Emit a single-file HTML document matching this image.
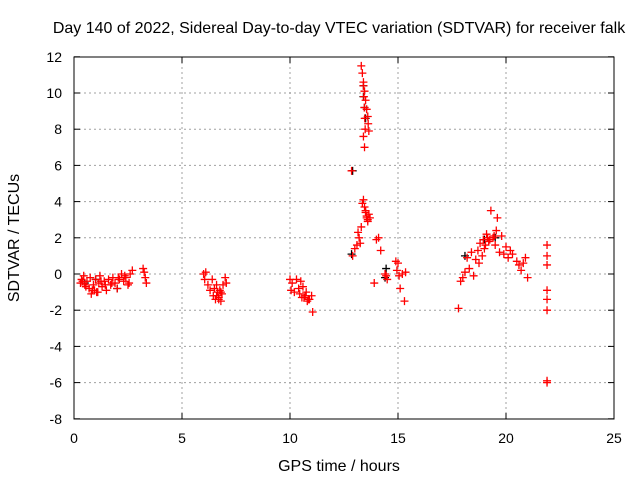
<!DOCTYPE html>
<html><head><meta charset="utf-8"><style>
body{margin:0;background:#fff;font-family:"Liberation Sans",sans-serif;}
svg text{font-family:"Liberation Sans",sans-serif;font-size:14px;fill:#000;}
svg text.big{font-size:16px;}
</style></head><body>
<svg id="chart" width="640" height="480" xmlns="http://www.w3.org/2000/svg">
<rect width="640" height="480" fill="#fff"/>
<text class="big" x="339" y="33" text-anchor="middle">Day 140 of 2022, Sidereal Day-to-day VTEC variation (SDTVAR) for receiver falk</text>
<g id="grid"></g>
<g id="marks"></g>
<rect x="74" y="57" width="540" height="362" fill="none" stroke="#000" stroke-width="1"/>
<text class="big" x="339" y="471" text-anchor="middle">GPS time / hours</text>
<text class="big" transform="translate(19,238) rotate(-90)" text-anchor="middle">SDTVAR / TECUs</text>
</svg>
<script>
const xTicks=[0,5,10,15,20,25];
const yTicks=[-8,-6,-4,-2,0,2,4,6,8,10,12];
const blackHours=[0.5,1.0,2.0,12.9,12.85,13.4,13.4,13.45,13.5,14.4,14.45,18.1,19.0,19.5];
const blackValues=[-0.5,-0.3,-0.8,5.7,1.1,10.4,9.8,9.2,8.6,-0.2,0.3,1.0,1.9,2.0];
const redHours=[0.3,0.35,0.45,0.5,0.6,0.7,0.75,0.8,0.9,0.95,1.0,1.1,1.15,1.2,1.3,1.4,1.5,1.6,1.7,1.8,1.9,2.0,2.1,2.2,2.3,2.4,2.5,2.6,2.7,3.2,3.25,3.3,3.35,
0.4,0.55,0.85,1.05,1.25,1.45,1.75,2.05,2.35,2.55,
6.0,6.05,6.1,6.2,6.3,6.4,6.45,6.5,6.55,6.6,6.65,6.7,6.75,6.8,6.85,6.9,7.0,7.05,6.6,6.7,6.8,
10.0,10.05,10.1,10.2,10.3,10.4,10.45,10.5,10.55,10.6,10.7,10.75,10.8,10.9,11.0,11.05,10.65,10.85,
12.9,12.85,13.0,13.1,13.15,13.2,13.25,13.3,13.35,13.4,13.45,13.5,13.55,13.6,13.3,13.35,13.4,13.45,13.5,13.55,13.6,13.62,13.65,13.4,13.45,13.5,13.55,13.6,13.65,13.7,13.4,13.42,13.44,13.46,13.48,
13.9,14.0,14.1,14.2,14.4,14.5,14.45,14.9,15.0,15.05,15.1,15.2,15.3,14.95,15.35,
17.8,17.9,18.0,18.1,18.2,18.3,18.4,18.5,18.6,18.7,18.75,18.8,18.9,19.0,19.1,19.2,19.3,19.4,19.5,19.55,19.6,19.7,19.8,19.9,20.0,20.1,20.2,20.3,20.5,20.6,20.7,20.8,20.9,21.0,18.95,19.05,19.15,19.25,19.45,
21.9,21.9,21.9,21.9,21.9,21.9,21.9,21.9];
const redValues=[-0.5,-0.3,-0.1,-0.6,-0.4,-0.8,-0.2,-1.1,-0.6,-0.9,-0.3,-1.0,-0.5,-0.1,-0.7,-0.4,-0.9,-0.3,-0.6,-0.2,-0.5,-0.8,-0.3,0.0,-0.4,-0.2,-0.6,0.0,0.2,0.3,0.1,-0.2,-0.5,
-0.4,-0.7,-0.9,-1.0,-0.4,-0.6,-0.5,-0.2,-0.1,-0.5,
0.0,-0.3,0.1,-0.6,-0.9,-0.3,-1.2,-0.8,-1.4,-0.6,-1.0,-1.3,-0.9,-1.5,-1.1,-0.6,-0.2,-0.5,-1.2,-1.4,-1.0,
-0.3,-0.9,-0.5,-1.0,-0.3,-0.8,-1.1,-0.4,-1.3,-0.7,-1.2,-1.0,-1.5,-1.4,-1.2,-2.1,-1.3,-1.4,
1.0,5.7,1.4,1.6,2.3,2.0,1.7,2.6,3.9,4.1,3.7,3.4,3.1,2.9,11.5,11.1,10.6,10.1,9.6,9.1,8.7,8.3,7.9,7.6,7.0,3.5,3.2,3.0,3.3,3.1,10.4,9.8,9.2,8.6,8.0,
-0.5,1.9,2.0,1.3,0.0,-0.3,-0.1,0.7,0.6,-0.1,-0.8,0.0,-1.5,0.2,0.1,
-1.9,-0.4,-0.2,0.1,0.9,0.3,1.2,-0.1,0.8,1.3,0.6,1.7,1.0,1.4,2.2,1.8,3.5,2.0,1.6,2.4,3.1,1.2,2.1,1.1,1.5,0.9,1.3,1.1,0.7,0.5,0.2,0.6,0.9,-0.2,1.9,1.6,2.0,1.9,2.1,
1.6,1.0,0.5,-0.9,-1.4,-2.0,-6.0,-5.9];
const X=h=>74+h*21.6, Y=v=>274-v*18.1;
const NS="http://www.w3.org/2000/svg";
const grid=document.getElementById('grid'),marks=document.getElementById('marks');
function mk(tag,attrs,parent){const e=document.createElementNS(NS,tag);for(const k in attrs)e.setAttribute(k,attrs[k]);parent.appendChild(e);return e;}
xTicks.forEach(t=>{
 if(t>0&&t<25){const g=mk('line',{x1:X(t),x2:X(t),y1:57,y2:419,stroke:'#a0a0a0','stroke-dasharray':'2,3'},grid);
 
 }
 mk('line',{x1:X(t),x2:X(t),y1:419,y2:413,stroke:'#000'},grid);
 mk('line',{x1:X(t),x2:X(t),y1:57,y2:63,stroke:'#000'},grid);
 const l=mk('text',{x:X(t),y:443,'text-anchor':'middle'},grid);l.textContent=t;
 
 
});
yTicks.forEach(t=>{
 if(t>-8&&t<12){const g=mk('line',{x1:74,x2:614,y1:Y(t),y2:Y(t),stroke:'#a0a0a0','stroke-dasharray':'2,3'},grid);
 
 }
 mk('line',{x1:74,x2:80,y1:Y(t),y2:Y(t),stroke:'#000'},grid);
 mk('line',{x1:608,x2:614,y1:Y(t),y2:Y(t),stroke:'#000'},grid);
 const l=mk('text',{x:62,y:Y(t)+5,'text-anchor':'end'},grid);l.textContent=t;
 
 
});
function plus(h,v,c,name){
 const x=X(h),y=Y(v);
 const p=mk('path',{d:`M${x-4} ${y}H${x+4}M${x} ${y-4}V${y+4}`,stroke:c,'stroke-width':1.3,fill:'none'},marks);
 
 
}
blackHours.forEach((h,i)=>plus(h,blackValues[i],'#000','black-point'));
redHours.forEach((h,i)=>plus(h,redValues[i],'#ff0000','red-point'));
</script>
</body></html>
